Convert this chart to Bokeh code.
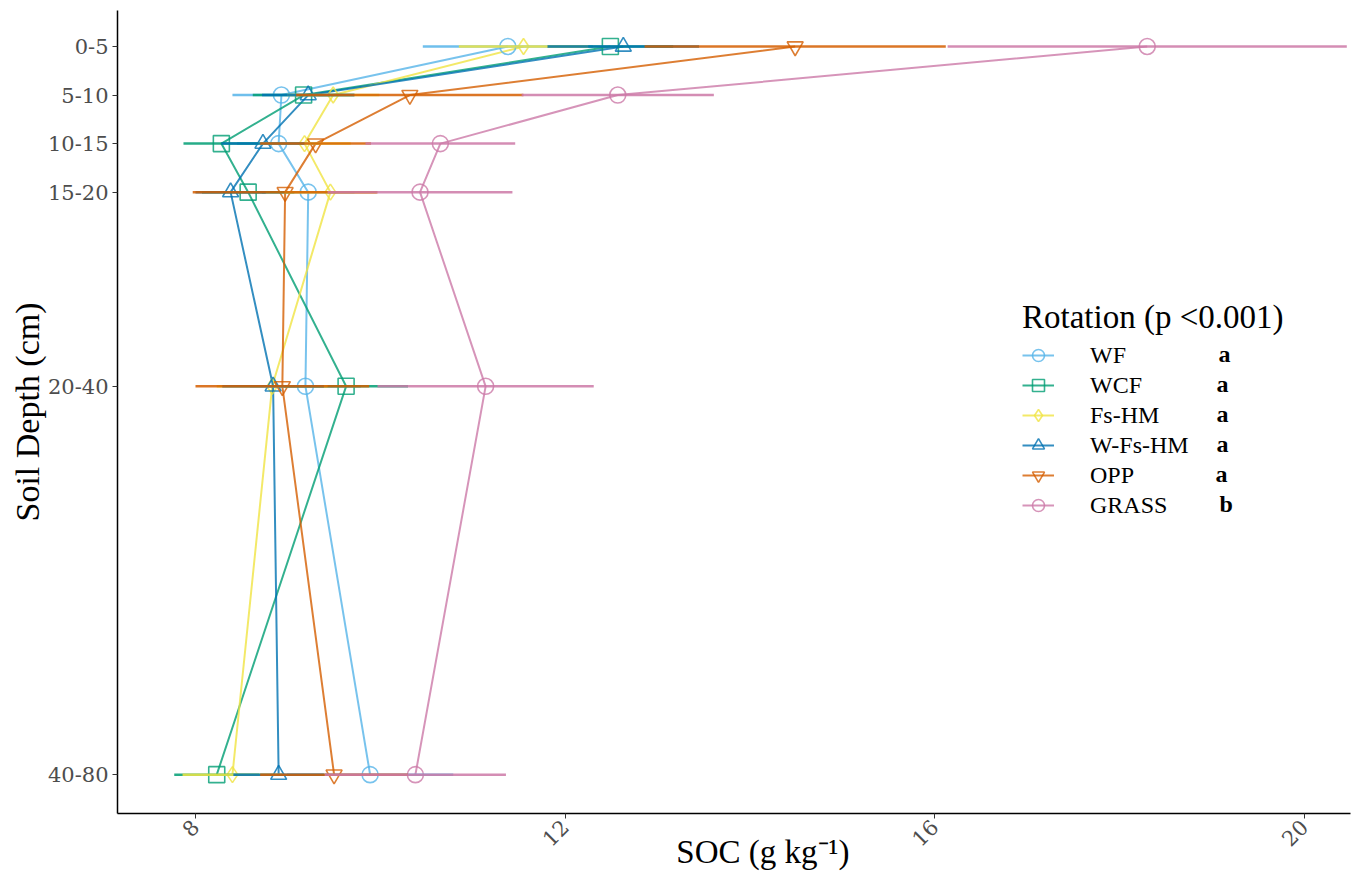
import math
from bokeh.plotting import figure
from bokeh.models import Range1d, FixedTicker, Legend, LegendItem, Label, ColumnDataSource
from bokeh.embed import file_html
from bokeh.resources import INLINE

# ---------------- data ----------------
depth_labels = ["0-5", "5-10", "10-15", "15-20", "20-40", "40-80"]
depth_bottom = [5, 10, 15, 20, 40, 80]

rotations = ["WF", "WCF", "Fs-HM", "W-Fs-HM", "OPP", "GRASS"]
letters = ["a", "a", "a", "a", "a", "b"]

soc_WF      = [11.38, 8.93, 8.90, 9.22, 9.19, 9.89]
soc_WCF     = [12.49, 9.17, 8.28, 8.57, 9.63, 8.23]
soc_FsHM    = [11.55, 9.49, 9.18, 9.46, 8.83, 8.40]
soc_WFsHM   = [12.63, 9.22, 8.73, 8.38, 8.84, 8.90]
soc_OPP     = [14.49, 10.32, 9.30, 8.97, 8.94, 9.50]
soc_GRASS   = [18.30, 12.57, 10.65, 10.43, 11.14, 10.38]

err_WF      = [0.92, 0.53, 0.45, 0.50, 0.60, 0.90]
err_WCF     = [0.68, 0.55, 0.41, 0.50, 0.67, 0.46]
err_FsHM    = [0.70, 0.50, 0.50, 0.50, 0.60, 0.54]
err_WFsHM   = [0.82, 0.50, 0.45, 0.38, 0.55, 0.49]
err_OPP     = [1.63, 1.23, 0.60, 1.00, 0.94, 0.80]
err_GRASS   = [2.16, 1.04, 0.81, 1.00, 1.17, 0.98]

soc = [soc_WF, soc_WCF, soc_FsHM, soc_WFsHM, soc_OPP, soc_GRASS]
err = [err_WF, err_WCF, err_FsHM, err_WFsHM, err_OPP, err_GRASS]

colors = ["#56B4E9", "#009E73", "#F0E442", "#0072B2", "#D55E00", "#CC79A7"]
markers = ["circle", "square", "diamond", "triangle", "inverted_triangle", "circle"]

# ---------------- figure ----------------
p = figure(width=1352, height=876, output_backend="svg", toolbar_location=None,
           x_range=Range1d(7.156, 20.50), y_range=Range1d(84.0, 1.29),
           min_border_left=117, min_border_top=10, min_border_right=2, min_border_bottom=63,
           background_fill_color="white", border_fill_color="white")
p.outline_line_color = None
p.xgrid.visible = False
p.ygrid.visible = False

serif_tick = "DejaVu Serif"
serif_title = "Liberation Serif"

p.yaxis.ticker = FixedTicker(ticks=depth_bottom)
p.yaxis.major_label_overrides = {d: l for d, l in zip(depth_bottom, depth_labels)}
p.xaxis.ticker = FixedTicker(ticks=[8, 12, 16, 20])
p.xaxis.major_label_orientation = math.pi / 4

for ax in (p.xaxis[0], p.yaxis[0]):
    ax.minor_tick_line_color = None
    ax.major_tick_in = 0
    ax.major_tick_out = 5
    ax.major_tick_line_color = "#333333"
    ax.axis_line_color = "black"
    ax.axis_line_width = 1.5
    ax.major_label_text_font = serif_tick
    ax.major_label_text_font_size = "21px"
    ax.major_label_text_color = "#4D4D4D"
    ax.axis_label_text_font = serif_title
    ax.axis_label_text_font_size = "34px"
    ax.axis_label_text_font_style = "normal"
    ax.axis_label_text_color = "black"

NBSP = "\u00a0"
p.xaxis.axis_label = NBSP * 7 + "SOC (g kg\u207b\u00b9)"
p.xaxis.axis_label_text_font_size = "33px"
p.yaxis.axis_label = "Soil Depth (cm)"
p.xaxis.major_label_standoff = 5
p.xaxis.axis_label_standoff = -22
p.yaxis.major_label_standoff = 4
p.yaxis.axis_label_standoff = -1

# ---------------- glyphs ----------------
sources = []
for name, s, e in zip(rotations, soc, err):
    sources.append(ColumnDataSource(dict(
        soc=s, depth=depth_bottom,
        lo=[a - b for a, b in zip(s, e)], hi=[a + b for a, b in zip(s, e)])))

line_r, pt_r = [], []
for src, c in zip(sources, colors):
    line_r.append(p.line("soc", "depth", source=src, line_color=c, line_width=2, line_alpha=0.8))
for src, c, m in zip(sources, colors, markers):
    pt_r.append(p.scatter("soc", "depth", source=src, marker=m, size=16, fill_color=None,
                          line_color=c, line_width=1.6, line_alpha=0.8))
for src, c in zip(sources, colors):
    p.segment(x0="lo", y0="depth", x1="hi", y1="depth", source=src,
              line_color=c, line_width=2.5, line_alpha=0.85)

# ---------------- legend ----------------
items = [LegendItem(label=n, renderers=[l, s]) for n, l, s in zip(rotations, line_r, pt_r)]
ROW_H = 30
legend = Legend(items=items, location=(895, 283), orientation="vertical",
                title="Rotation (p <0.001)", title_text_font=serif_title,
                title_text_font_style="normal",
                title_text_font_size="33px", title_text_color="black", title_standoff=4,
                label_text_font=serif_title, label_text_font_size="24px",
                label_text_color="black", glyph_width=32, glyph_height=ROW_H,
                label_height=ROW_H, spacing=0, label_standoff=36, padding=10,
                border_line_alpha=0, background_fill_alpha=0)
p.add_layout(legend, "center")

letter_x = [1101, 1099, 1099, 1099, 1098, 1102]
first_row_center = 460  # from frame bottom
for i, (lt, lx) in enumerate(zip(letters, letter_x)):
    p.add_layout(Label(x=lx, y=first_row_center - i * ROW_H, x_units="screen", y_units="screen",
                       text=lt, text_font=serif_title, text_font_style="bold",
                       text_font_size="24px", text_baseline="middle", text_color="black"))

open("out.html", "w").write(file_html(p, INLINE))
